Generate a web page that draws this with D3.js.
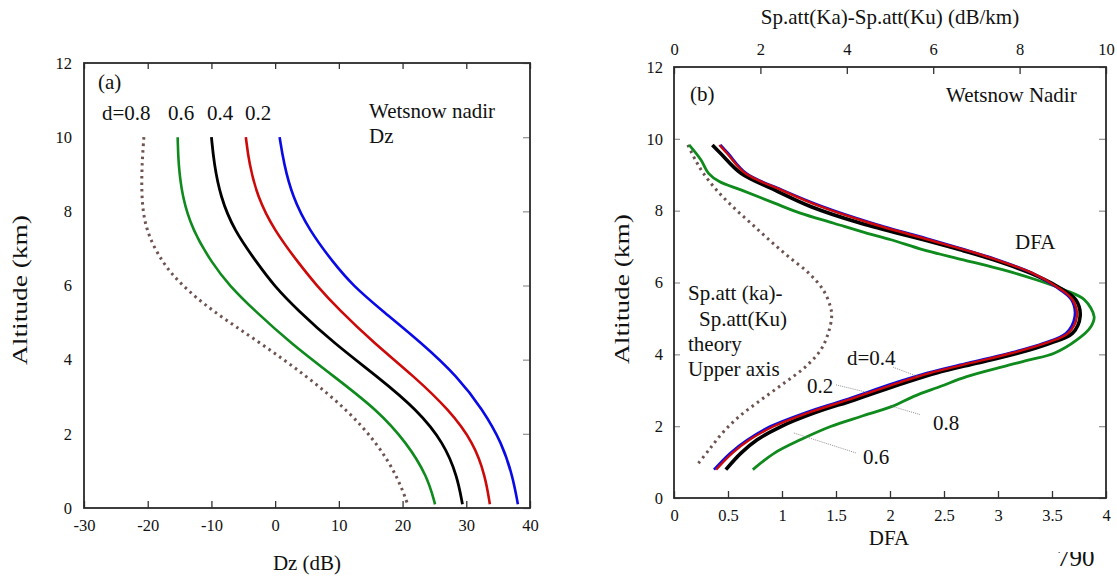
<!DOCTYPE html>
<html>
<head>
<meta charset="utf-8">
<script src="https://cdn.jsdelivr.net/npm/d3@7/dist/d3.min.js"></script>
<style>
body { margin: 0; background: #fff; }
</style>
</head>
<body>
<div id="chart"></div>
<script>
// panel (a): Dz (dB) vs altitude, one curve per d
var altA    = [10, 9.3, 8.4, 7.5, 6.6, 6.0, 5.35, 4.45, 3.55, 2.65, 1.75, 0.85, 0.1];
var dzBlue  = [0.7, 1.35, 2.7, 5.3, 9.2, 12.2, 16.6, 23.0, 28.6, 32.6, 35.6, 37.3, 38.1];
var dzRed   = [-4.6, -4.1, -2.8, -0.2, 3.7, 6.5, 10.0, 15.5, 21.8, 27.3, 31.2, 33.0, 33.7];
var dzBlack = [-10.0, -9.6, -8.6, -6.5, -2.8, -0.2, 3.45, 9.2, 16.0, 22.3, 26.5, 28.6, 29.4];
var dzGreen = [-15.3, -15.2, -14.6, -13.0, -9.9, -7.2, -3.4, 2.4, 9.2, 16.0, 20.7, 23.9, 25.1];
var dzBrown = [-20.6, -20.9, -21.0, -20.4, -17.7, -14.6, -10.2, -2.3, 5.0, 11.3, 16.0, 19.2, 20.8];

// panel (b): DFA vs altitude
var altB     = [9.83, 9.6, 9.04, 8.58, 8.11, 7.65, 7.19, 6.91, 6.63, 6.26, 5.89, 5.52, 5.05, 4.59, 4.31, 4.03, 3.76, 3.48, 3.2, 2.73, 2.37, 1.99, 1.62, 1.25, 0.79];
var dfaBlack = [0.355, 0.43, 0.62, 0.93, 1.27, 1.73, 2.31, 2.65, 2.96, 3.30, 3.55, 3.72, 3.76, 3.69, 3.48, 3.18, 2.81, 2.43, 2.13, 1.67, 1.30, 0.99, 0.77, 0.62, 0.48];
var dfaRed   = [0.42, 0.49, 0.66, 0.99, 1.36, 1.82, 2.36, 2.69, 2.99, 3.32, 3.54, 3.69, 3.73, 3.65, 3.44, 3.12, 2.75, 2.37, 2.07, 1.61, 1.24, 0.92, 0.70, 0.54, 0.39];
var dfaBlue  = [0.43, 0.50, 0.67, 1.00, 1.38, 1.84, 2.38, 2.70, 3.00, 3.32, 3.53, 3.68, 3.71, 3.63, 3.42, 3.10, 2.72, 2.34, 2.04, 1.58, 1.21, 0.89, 0.68, 0.52, 0.37];
var altGreen = [9.83, 9.41, 9.04, 8.81, 8.58, 8.21, 7.93, 7.65, 7.37, 7.19, 6.91, 6.63, 6.35, 6.07, 5.80, 5.52, 5.05, 4.77, 4.40, 4.03, 3.85, 3.66, 3.38, 3.11, 2.83, 2.55, 2.27, 1.99, 1.62, 1.25, 0.79];
var dfaGreen = [0.14, 0.25, 0.32, 0.42, 0.62, 0.93, 1.17, 1.48, 1.79, 2.01, 2.31, 2.68, 3.05, 3.36, 3.61, 3.80, 3.89, 3.86, 3.73, 3.52, 3.30, 3.05, 2.71, 2.47, 2.22, 2.02, 1.73, 1.45, 1.17, 0.93, 0.73];
// theory curve, read on the upper axis
var altTheory = [9.83, 9.4, 9.04, 8.58, 8.11, 7.65, 7.19, 6.72, 6.26, 5.80, 5.33, 5.05, 4.59, 4.13, 3.66, 3.2, 2.73, 2.27, 1.81, 1.34, 0.93];
var spTheory  = [0.32, 0.5, 0.68, 0.98, 1.36, 1.78, 2.2, 2.65, 3.12, 3.45, 3.62, 3.65, 3.57, 3.40, 3.05, 2.55, 2.01, 1.51, 1.12, 0.81, 0.54];

var altTicks = [0, 2, 4, 6, 8, 10, 12];
var dzTicks  = [-30, -20, -10, 0, 10, 20, 30, 40];
var dfaTicks = [0, 0.5, 1, 1.5, 2, 2.5, 3, 3.5, 4];
var spTicks  = [0, 2, 4, 6, 8, 10];

(function() {
	var serif = "'Liberation Serif', 'Times New Roman', 'DejaVu Serif', serif";

	var svg = d3.select("#chart").append("svg")
		.attr("width", 1117)
		.attr("height", 581)
		.attr("font-family", serif);

	function pts(xs, ys) {
		return xs.map(function(v, i) { return { v: v, alt: ys[i] }; });
	}
	function plain(d) { return String(d); }

	// ---------- panel (a) ----------
	var A = { left: 84, right: 530, top: 63, bottom: 508 };
	var xA = d3.scaleLinear().domain([-30, 40]).range([A.left, A.right]);
	var yA = d3.scaleLinear().domain([0, 12]).range([A.bottom, A.top]);

	var gA = svg.append("g");

	gA.append("g").attr("transform", "translate(0," + A.bottom + ")")
		.call(d3.axisBottom(xA).tickValues(dzTicks).tickSize(-7).tickPadding(11).tickFormat(plain));
	gA.append("g").attr("transform", "translate(0," + A.top + ")")
		.call(d3.axisTop(xA).tickValues(dzTicks).tickSize(-6).tickFormat(""));
	gA.append("g").attr("transform", "translate(" + A.left + ",0)")
		.call(d3.axisLeft(yA).tickValues(altTicks).tickSize(0).tickPadding(12).tickFormat(plain));
	gA.append("g").attr("class", "grayTick").attr("transform", "translate(" + A.right + ",0)")
		.call(d3.axisRight(yA).tickValues(altTicks).tickSize(-7).tickFormat(""));

	var lineA = d3.line()
		.x(function(d) { return xA(d.v); })
		.y(function(d) { return yA(d.alt); })
		.curve(d3.curveBasis);

	var seriesA = [
		{ vals: dzBrown, color: "#6e5450", width: 3, dash: "2.5,4" },
		{ vals: dzGreen, color: "#0f8a1c", width: 2.6 },
		{ vals: dzBlack, color: "#000000", width: 2.8 },
		{ vals: dzRed,   color: "#cc0a0a", width: 2.6 },
		{ vals: dzBlue,  color: "#0a0ae6", width: 2.6 }
	];
	gA.selectAll("path.curve").data(seriesA).enter().append("path")
		.attr("class", "curve")
		.attr("d", function(s) { return lineA(pts(s.vals, altA)); })
		.attr("fill", "none")
		.attr("stroke", function(s) { return s.color; })
		.attr("stroke-width", function(s) { return s.width; })
		.attr("stroke-dasharray", function(s) { return s.dash || null; });

	gA.append("rect")
		.attr("x", A.left).attr("y", A.top)
		.attr("width", A.right - A.left).attr("height", A.bottom - A.top)
		.attr("fill", "none").attr("stroke", "#2a2a2a").attr("stroke-width", 1.8);

	gA.append("text").attr("x", 98).attr("y", 89).attr("font-size", 21).text("(a)");
	gA.append("text").attr("x", 102).attr("y", 120).attr("font-size", 21).text("d=0.8");
	gA.append("text").attr("x", 168).attr("y", 120).attr("font-size", 21).text("0.6");
	gA.append("text").attr("x", 207).attr("y", 120).attr("font-size", 21).text("0.4");
	gA.append("text").attr("x", 245).attr("y", 120).attr("font-size", 21).text("0.2");
	gA.append("text").attr("x", 369).attr("y", 118).attr("font-size", 21).text("Wetsnow nadir");
	gA.append("text").attr("x", 369).attr("y", 143).attr("font-size", 21).text("Dz");
	gA.append("text").attr("x", 307).attr("y", 570).attr("font-size", 21)
		.attr("text-anchor", "middle").text("Dz (dB)");
	gA.append("text").attr("transform", "translate(27,290) rotate(-90)")
		.attr("font-size", 22).attr("text-anchor", "middle")
		.attr("textLength", 150).attr("lengthAdjust", "spacingAndGlyphs")
		.text("Altitude (km)");

	// ---------- panel (b) ----------
	var B = { left: 674, right: 1106, top: 67, bottom: 498 };
	var xB = d3.scaleLinear().domain([0, 4]).range([B.left, B.right]);
	var xTop = d3.scaleLinear().domain([0, 10]).range([B.left, B.right]);
	var yB = d3.scaleLinear().domain([0, 12]).range([B.bottom, B.top]);

	var gB = svg.append("g");

	gB.append("g").attr("transform", "translate(0," + B.bottom + ")")
		.call(d3.axisBottom(xB).tickValues(dfaTicks).tickSize(-7).tickPadding(11).tickFormat(plain));
	gB.append("g").attr("transform", "translate(0," + B.top + ")")
		.call(d3.axisTop(xTop).tickValues(spTicks).tickSize(-7).tickPadding(12).tickFormat(plain));
	gB.append("g").attr("class", "grayTick").attr("transform", "translate(" + B.left + ",0)")
		.call(d3.axisLeft(yB).tickValues(altTicks).tickSize(-6).tickPadding(11).tickFormat(plain));
	gB.append("g").attr("class", "grayTick").attr("transform", "translate(" + B.right + ",0)")
		.call(d3.axisRight(yB).tickValues(altTicks).tickSize(-7).tickFormat(""));

	var lineB = d3.line()
		.x(function(d) { return xB(d.v); })
		.y(function(d) { return yB(d.alt); })
		.curve(d3.curveCatmullRom.alpha(0.5));
	var lineTop = d3.line()
		.x(function(d) { return xTop(d.v); })
		.y(function(d) { return yB(d.alt); })
		.curve(d3.curveCatmullRom.alpha(0.5));

	gB.append("path")
		.attr("d", lineTop(pts(spTheory, altTheory)))
		.attr("fill", "none").attr("stroke", "#6e5450")
		.attr("stroke-width", 3).attr("stroke-dasharray", "2.5,4");

	var seriesB = [
		{ vals: dfaGreen, alts: altGreen, color: "#0f8a1c", width: 2.8 },
		{ vals: dfaBlack, alts: altB, color: "#000000", width: 3.6 },
		{ vals: dfaBlue,  alts: altB, color: "#0a0ae6", width: 2.6 },
		{ vals: dfaRed,   alts: altB, color: "#cc0a0a", width: 2.4 }
	];
	gB.selectAll("path.curve").data(seriesB).enter().append("path")
		.attr("class", "curve")
		.attr("d", function(s) { return lineB(pts(s.vals, s.alts)); })
		.attr("fill", "none")
		.attr("stroke", function(s) { return s.color; })
		.attr("stroke-width", function(s) { return s.width; });

	gB.append("rect")
		.attr("x", B.left).attr("y", B.top)
		.attr("width", B.right - B.left).attr("height", B.bottom - B.top)
		.attr("fill", "none").attr("stroke", "#2a2a2a").attr("stroke-width", 1.8);

	// leader lines for the d labels (DFA, altitude)
	var leaders = [
		[[2.03, 3.64], [2.26, 3.38]],
		[[1.50, 3.15], [1.79, 2.94]],
		[[2.00, 2.57], [2.28, 2.32]],
		[[1.11, 1.81], [1.69, 1.25]]
	];
	gB.selectAll("line.leader").data(leaders).enter().append("line")
		.attr("class", "leader")
		.attr("x1", function(d) { return xB(d[0][0]); })
		.attr("y1", function(d) { return yB(d[0][1]); })
		.attr("x2", function(d) { return xB(d[1][0]); })
		.attr("y2", function(d) { return yB(d[1][1]); })
		.attr("stroke", "#777").attr("stroke-width", 0.8).attr("stroke-dasharray", "1,1");

	gB.append("text").attr("x", 690).attr("y", 101).attr("font-size", 21).text("(b)");
	gB.append("text").attr("x", 946).attr("y", 102).attr("font-size", 21).text("Wetsnow Nadir");
	gB.append("text").attr("x", 1015).attr("y", 249).attr("font-size", 21).text("DFA");
	gB.append("text").attr("x", 688).attr("y", 300).attr("font-size", 21).text("Sp.att (ka)-");
	gB.append("text").attr("x", 699).attr("y", 326).attr("font-size", 21).text("Sp.att(Ku)");
	gB.append("text").attr("x", 688).attr("y", 351).attr("font-size", 21).text("theory");
	gB.append("text").attr("x", 688).attr("y", 376).attr("font-size", 21).text("Upper axis");
	gB.append("text").attr("x", 847).attr("y", 365).attr("font-size", 21).text("d=0.4");
	gB.append("text").attr("x", 807).attr("y", 393).attr("font-size", 21).text("0.2");
	gB.append("text").attr("x", 933).attr("y", 430).attr("font-size", 21).text("0.8");
	gB.append("text").attr("x", 863).attr("y", 464).attr("font-size", 21).text("0.6");

	gB.append("text").attr("x", 890).attr("y", 24).attr("font-size", 21)
		.attr("text-anchor", "middle").text("Sp.att(Ka)-Sp.att(Ku) (dB/km)");
	gB.append("text").attr("x", 889).attr("y", 545).attr("font-size", 21)
		.attr("text-anchor", "middle").text("DFA");
	gB.append("text").attr("transform", "translate(629,289) rotate(-90)")
		.attr("font-size", 22).attr("text-anchor", "middle")
		.attr("textLength", 150).attr("lengthAdjust", "spacingAndGlyphs")
		.text("Altitude (km)");

	// page number, top cut off
	svg.append("clipPath").attr("id", "pgclip")
		.append("rect").attr("x", 1040).attr("y", 552).attr("width", 77).attr("height", 29);
	svg.append("text").attr("x", 1057).attr("y", 566).attr("font-size", 25)
		.attr("clip-path", "url(#pgclip)").text("790");

	// axis styling
	svg.selectAll(".domain").remove();
	svg.selectAll(".tick text").attr("font-size", 16.5);
	svg.selectAll(".tick line").attr("stroke", "#333").attr("stroke-width", 1.3);
	svg.selectAll(".grayTick .tick line").attr("stroke", "#999");
	svg.selectAll("g").attr("font-family", null);
	svg.selectAll("text").attr("font-family", serif).attr("fill", "#111");
})();
</script>
</body>
</html>
